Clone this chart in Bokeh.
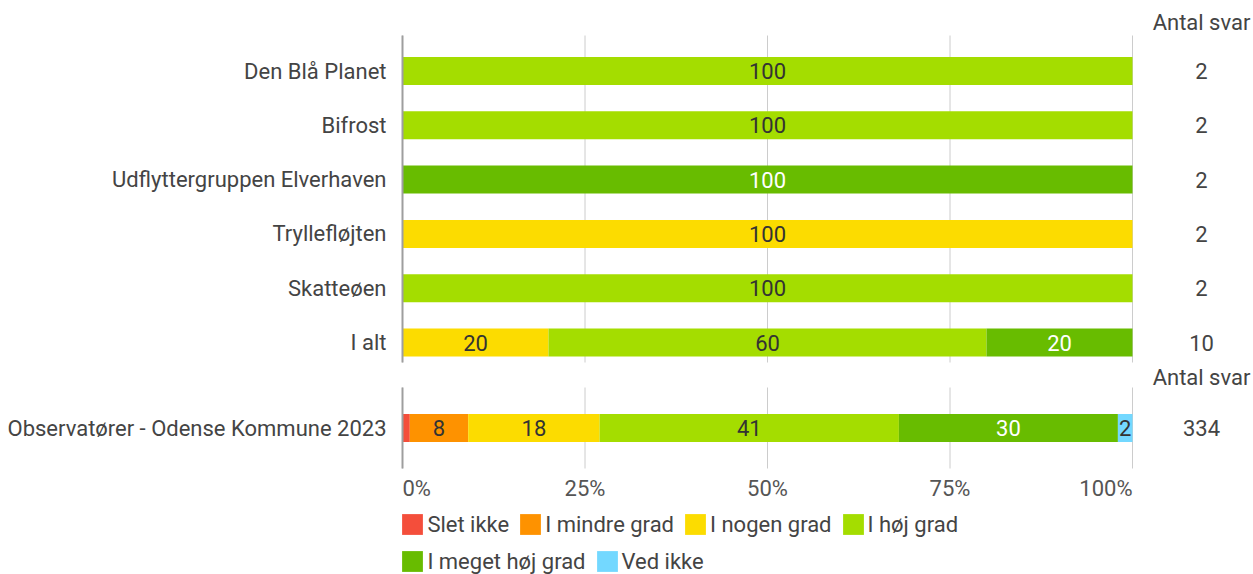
from bokeh.plotting import figure
from bokeh.models import ColumnDataSource, Range1d, Legend, LegendItem
from bokeh.embed import file_html
from bokeh.resources import INLINE
from bokeh.core.properties import value

# ---------------- data ----------------
categories = ["Den Blå Planet", "Bifrost", "Udflyttergruppen Elverhaven",
              "Tryllefløjten", "Skatteøen", "I alt"]
series = ["Slet ikke", "I mindre grad", "I nogen grad", "I høj grad",
          "I meget høj grad", "Ved ikke"]
colors = ["#f44e3b", "#fe9200", "#fcdc00", "#a4dd00", "#68bc00", "#73d8ff"]

slet_ikke = [0, 0, 0, 0, 0, 0]
i_mindre_grad = [0, 0, 0, 0, 0, 0]
i_nogen_grad = [0, 0, 0, 100, 0, 20]
i_hoej_grad = [100, 100, 0, 0, 100, 60]
i_meget_hoej_grad = [0, 0, 100, 0, 0, 20]
ved_ikke = [0, 0, 0, 0, 0, 0]
antal_svar = [2, 2, 2, 2, 2, 10]

bench_category = ["Observatører - Odense Kommune 2023"]
bench_slet_ikke = [1]
bench_i_mindre_grad = [8]
bench_i_nogen_grad = [18]
bench_i_hoej_grad = [41]
bench_i_meget_hoej_grad = [30]
bench_ved_ikke = [2]
bench_antal_svar = [334]

tick_values = [0, 25, 50, 75, 100]
tick_labels = ["0%", "25%", "50%", "75%", "100%"]
count_header = "Antal svar"

# ---------------- layout constants (pixels) ----------------
FONT = "Roboto"
FS = "22px"
W, H = 1253, 574
X0_PX = 402            # where 0 % sits
PX_PER_PCT = 7.3       # 730 px for 100 %
ROW0_PX = 70.5         # centre of first row
ROW_PX = 54.3          # row pitch
BENCH_PX = 427.5       # centre of benchmark row
BAR_PX = 28
TOP_SECTION = (35, 362)
BENCH_SECTION = (387, 468)
HEADER_PX = [22, 376.5]
TICK_LABEL_PX = 488
TEXT_COLOR = "#444444"
GRID_COLOR = "#cccccc"
AXIS_LINE_COLOR = "#9e9e9e"
SWATCH_BOX = 26        # legend draws the swatch at 80 % of this box


def py(pixel_y):
    return (pixel_y - ROW0_PX) / ROW_PX


def dx(pixels):
    return pixels / PX_PER_PCT


top_values = [slet_ikke, i_mindre_grad, i_nogen_grad, i_hoej_grad,
              i_meget_hoej_grad, ved_ikke]
bench_values = [bench_slet_ikke, bench_i_mindre_grad, bench_i_nogen_grad,
                bench_i_hoej_grad, bench_i_meget_hoej_grad, bench_ved_ikke]

all_cats = categories + bench_category
all_counts = antal_svar + bench_antal_svar
all_values = [t + b for t, b in zip(top_values, bench_values)]
rows_y = list(range(len(categories))) + [py(BENCH_PX)]

p = figure(width=W, height=H,
           x_range=Range1d(-dx(X0_PX), dx(W - X0_PX)),
           y_range=Range1d(py(H), py(0)),
           x_axis_location=None, y_axis_location=None,
           min_border=0, output_backend="svg", toolbar_location=None)
p.grid.visible = False
p.outline_line_color = None
p.background_fill_color = "white"

# vertical grid lines at the x ticks, one block per section
for a, b in (TOP_SECTION, BENCH_SECTION):
    n = len(tick_values)
    p.segment(x0=tick_values, x1=tick_values, y0=[py(a)] * n, y1=[py(b)] * n,
              line_color=GRID_COLOR, line_width=1)

# stacked bars
data = {"y": rows_y}
for s, vals in zip(series, all_values):
    data[s] = vals
src = ColumnDataSource(data)
rends = p.hbar_stack(series, y="y", height=BAR_PX / ROW_PX, color=colors,
                     source=src, line_color=None)

# value axis line (left edge of the bars)
for a, b in (TOP_SECTION, BENCH_SECTION):
    p.segment(x0=[tick_values[0]], x1=[tick_values[0]], y0=[py(a)], y1=[py(b)],
              line_color=AXIS_LINE_COLOR, line_width=2)

# values inside the segments
xs, ys, texts, tcols = [], [], [], []
for r, yv in enumerate(rows_y):
    left = 0
    for si, vals in enumerate(all_values):
        v = vals[r]
        if v >= 2:
            xs.append(left + v / 2)
            ys.append(yv)
            texts.append(str(v))
            tcols.append("#ffffff" if series[si] == "I meget høj grad" else "#333333")
        left += v
p.text(x=xs, y=ys, text=texts, text_color=tcols,
       text_font=value(FONT), text_font_size=FS,
       text_align="center", text_baseline="middle")

# category labels
p.text(x=[-dx(16)] * len(all_cats), y=rows_y, text=all_cats,
       text_font=value(FONT), text_font_size=FS, text_color=TEXT_COLOR,
       text_align="right", text_baseline="middle")

# counts column + headers
count_x = tick_values[-1] + dx(69)
p.text(x=[count_x] * len(all_counts), y=rows_y, text=[str(c) for c in all_counts],
       text_font=value(FONT), text_font_size=FS, text_color=TEXT_COLOR,
       text_align="center", text_baseline="middle")
p.text(x=[count_x] * len(HEADER_PX), y=[py(h) for h in HEADER_PX],
       text=[count_header] * len(HEADER_PX),
       text_font=value(FONT), text_font_size=FS, text_color=TEXT_COLOR,
       text_align="center", text_baseline="middle")

# percentage tick labels
aligns = ["left"] + ["center"] * (len(tick_values) - 2) + ["right"]
p.text(x=tick_values, y=[py(TICK_LABEL_PX)] * len(tick_values), text=tick_labels,
       text_font=value(FONT), text_font_size=FS, text_color="#555555",
       text_align=aligns, text_baseline="middle")


def make_legend(idx, loc):
    items = [LegendItem(label=series[i], renderers=[rends[i]]) for i in idx]
    leg = Legend(items=items, orientation="horizontal", location=loc,
                 glyph_width=SWATCH_BOX, glyph_height=SWATCH_BOX,
                 label_standoff=2, spacing=8,
                 padding=0, margin=0, border_line_color=None,
                 background_fill_alpha=0, label_text_font=FONT,
                 label_text_font_size=FS, label_text_color=TEXT_COLOR)
    p.add_layout(leg)


legend_x = X0_PX - SWATCH_BOX * 0.1
make_legend([0, 1, 2, 3], (legend_x, H - 524 - SWATCH_BOX / 2))
make_legend([4, 5], (legend_x, max(0, H - 562 - SWATCH_BOX / 2)))

open("out.html", "w").write(file_html(p, INLINE))
